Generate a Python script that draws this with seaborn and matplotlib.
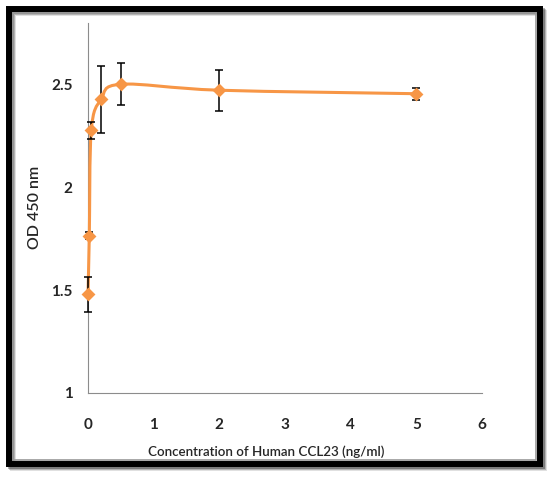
import matplotlib
matplotlib.use("Agg")
import matplotlib.pyplot as plt
import seaborn as sns
import numpy as np
import pandas as pd
from matplotlib.patches import Rectangle, PathPatch
from matplotlib.path import Path

# data
conc = [0, 0.02, 0.05, 0.2, 0.5, 2, 5]
od450 = [1.481, 1.766, 2.278, 2.429, 2.502, 2.473, 2.456]
od_err = [0.085, 0.015, 0.04, 0.163, 0.103, 0.10, 0.03]
x_ticks = [0, 1, 2, 3, 4, 5, 6]
y_ticks = [1, 1.5, 2, 2.5]

ORANGE = "#F79646"
AXIS_GREY = "#8c8c8c"
W, H = 557, 482

sns.set_style("white")
plt.rcParams["font.family"] = ["Lato", "DejaVu Sans"]

df = pd.DataFrame({"conc": conc, "od": od450, "err": od_err})

fig = plt.figure(figsize=(W / 100, H / 100), dpi=100)
ax = fig.add_axes([88 / W, 1 - 393 / H, 394 / W, 370 / H])
ax.set_xlim(0, 6)
ax.set_ylim(1, 2.8)


def smooth_path(ax, xs, ys):
    # excel-style smoothed line: catmull-rom -> bezier, done in screen space
    pts = ax.transData.transform(np.column_stack([xs, ys]))
    n = len(pts)
    verts = [pts[0]]
    codes = [Path.MOVETO]
    for i in range(n - 1):
        p0 = pts[max(i - 1, 0)]
        p1 = pts[i]
        p2 = pts[i + 1]
        p3 = pts[min(i + 2, n - 1)]
        c1 = p1 + (p2 - p0) / 6
        c2 = p2 - (p3 - p1) / 6
        verts += [c1, c2, p2]
        codes += [Path.CURVE4] * 3
    verts = ax.transData.inverted().transform(np.array(verts))
    return Path(verts, codes)


ax.add_patch(PathPatch(smooth_path(ax, df["conc"].values, df["od"].values),
                       facecolor="none", edgecolor=ORANGE, lw=2.2, zorder=3,
                       clip_on=False))
eb = ax.errorbar(df["conc"], df["od"], yerr=df["err"], fmt="none", ecolor="black",
                 elinewidth=1.1, capsize=3, capthick=1.1, zorder=4)
for art in eb.lines[1] + eb.lines[2]:
    art.set_clip_on(False)
sns.scatterplot(data=df, x="conc", y="od", marker="D", s=50, color=ORANGE,
                edgecolor=ORANGE, linewidth=0, zorder=5, ax=ax, clip_on=False)

ax.set_xticks(x_ticks)
ax.set_yticks(y_ticks)
ax.set_xticklabels([str(t) for t in x_ticks])
ax.set_yticklabels([f"{t:g}" for t in y_ticks])
for lab in ax.get_xticklabels() + ax.get_yticklabels():
    lab.set_fontweight("bold")
    lab.set_fontsize(11)
ax.tick_params(axis="x", direction="out", length=4, width=0.8, color=AXIS_GREY, pad=14)
ax.tick_params(axis="y", direction="out", length=4, width=0.8, color=AXIS_GREY, pad=7)

for side in ["top", "right"]:
    ax.spines[side].set_visible(False)
for side in ["left", "bottom"]:
    ax.spines[side].set_color(AXIS_GREY)
    ax.spines[side].set_linewidth(0.8)
    ax.spines[side].set_zorder(1)

ax.set_xlabel("Concentration of Human CCL23 (ng/ml)", fontsize=9.6, fontweight="semibold", va="center")
ax.set_ylabel("OD 450 nm", fontsize=11.5, fontweight="semibold", va="center")
ax.xaxis.set_label_coords(0.453, -0.159)
ax.yaxis.set_label_coords(-0.1345, 0.503)


# picture frame: soft shadow, thick black border, thin grey inner line
def fig_rect(x0, y0, x1, y1, **kw):
    r = Rectangle((x0 / W, 1 - y1 / H), (x1 - x0) / W, (y1 - y0) / H,
                  transform=fig.transFigure, fill=False, **kw)
    fig.add_artist(r)


for off, a in [(4, 0.12), (3, 0.2), (2, 0.3)]:
    fig_rect(9 + off, 9 + off, 539.5 + off, 463.5 + off, edgecolor="black", lw=4.3, alpha=a)
fig_rect(9, 9, 539.5, 463.5, edgecolor="black", lw=4.3)
fig_rect(13, 13, 535.5, 459.5, edgecolor="#9a9a9a", lw=1.2)

fig.savefig("out.png", dpi=100)
